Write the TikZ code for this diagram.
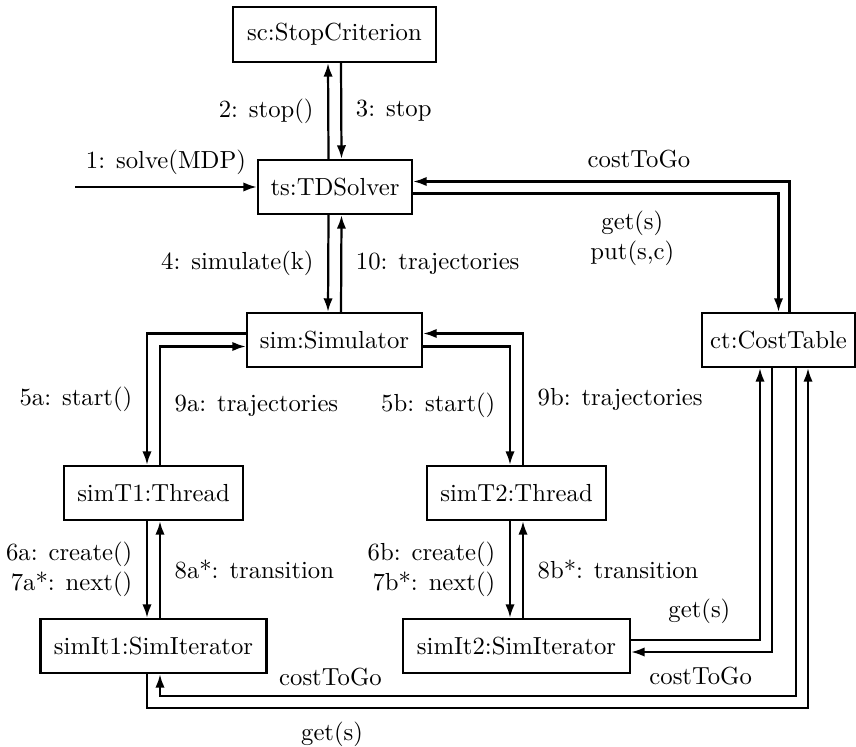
\documentclass[tikz,border=0pt]{standalone}
\usetikzlibrary{arrows.meta,calc}
\begin{document}
\begin{tikzpicture}[x=0.405pt,y=-0.405pt,
  obj/.style={draw,line width=0.9pt,minimum height=21.9pt,inner sep=0pt},
  msg/.style={line width=0.9pt,-{Latex[length=5.5pt,width=3.8pt]}},
  lab/.style={inner xsep=5.5pt,inner ysep=2pt}]
\useasboundingbox (0,0) rectangle (856,747);

% objects
\node[obj,minimum width=82.2pt,minimum height=22.3pt] (sc) at (334.5,34.5) {sc:StopCriterion};
\node[obj,minimum width=62.4pt] (ts) at (335,187) {ts:TDSolver};
\node[obj,minimum width=70.9pt] (sim) at (334.5,340) {sim:Simulator};
\node[obj,minimum width=62pt] (ct) at (778.5,340) {ct:CostTable};
\node[obj,minimum width=72.5pt] (simT1) at (153.5,493) {simT1:Thread};
\node[obj,minimum width=72.5pt] (simT2) at (516.5,493) {simT2:Thread};
\node[obj,minimum width=91.5pt] (simIt1) at (153.5,646) {simIt1:SimIterator};
\node[obj,minimum width=91.9pt] (simIt2) at (516.5,646) {simIt2:SimIterator};

% incoming call
\coordinate (in) at (75,187);
\draw[msg] (in) -- (in -| ts.west) node[midway,above,yshift=1.4pt] {1: solve(MDP)};

% solver and stop criterion
\draw[msg] ($(ts.north)+(-6.5,0)$) -- ($(sc.south)+(-6.5,0)$) node[lab,midway,left] {2: stop()};
\draw[msg] ($(sc.south)+(6.5,0)$) -- ($(ts.north)+(6.5,0)$) node[lab,midway,right] {3: stop};

% solver and simulator
\draw[msg] ($(ts.south)+(-6.5,0)$) -- ($(sim.north)+(-6.5,0)$) node[lab,midway,left] {4: simulate(k)};
\draw[msg] ($(sim.north)+(6.5,0)$) -- ($(ts.south)+(6.5,0)$) node[lab,midway,right] {10: trajectories};

% solver and cost table
\draw[msg] ($(ts.east)+(0,6.5)$) -| (ct.north)
  node[pos=0.3,below,yshift=-3.5pt,align=center] {get(s)\\put(s,c)};
\draw[msg] ($(ct.north)+(11,0)$) |- ($(ts.east)+(0,-5.5)$)
  node[pos=0.7,above,yshift=1.5pt] {costToGo};

% simulator and threads
\draw[msg] ($(sim.west)+(0,-6.5)$) -| ($(simT1.north)+(-6.5,0)$) node[lab,pos=0.75,left] {5a: start()};
\draw[msg] ($(simT1.north)+(6.5,0)$) |- ($(sim.west)+(0,6.5)$) node[lab,pos=0.25,right] {9a: trajectories};
\draw[msg] ($(sim.east)+(0,6.5)$) -| ($(simT2.north)+(-6.5,0)$) node[lab,pos=0.75,left] {5b: start()};
\draw[msg] ($(simT2.north)+(6.5,0)$) |- ($(sim.east)+(0,-6.5)$) node[lab,pos=0.25,right] {9b: trajectories};

% threads and iterators
\draw[msg] ($(simT1.south)+(-6.5,0)$) -- ($(simIt1.north)+(-6.5,0)$)
  node[lab,midway,left,align=right] {6a: create()\\7a*: next()};
\draw[msg] ($(simIt1.north)+(6.5,0)$) -- ($(simT1.south)+(6.5,0)$) node[lab,midway,right] {8a*: transition};
\draw[msg] ($(simT2.south)+(-6.5,0)$) -- ($(simIt2.north)+(-6.5,0)$)
  node[lab,midway,left,align=right] {6b: create()\\7b*: next()};
\draw[msg] ($(simIt2.north)+(6.5,0)$) -- ($(simT2.south)+(6.5,0)$) node[lab,midway,right] {8b*: transition};

% second iterator and cost table
\draw[msg] ($(simIt2.east)+(0,-6)$) -| ($(ct.south)+(-18.5,0)$)
  node[pos=0.265,above,yshift=2.7pt] {get(s)};
\draw[msg] ($(ct.south)+(-6.5,0)$) |- ($(simIt2.east)+(0,6)$)
  node[pos=0.753,below,yshift=-2.5pt] {costToGo};

% first iterator and cost table
\draw[msg] ($(simIt1.south)+(-6.5,0)$) -- ++(0,34) -| ($(ct.south)+(29.5,0)$)
  node[pos=0.14,below,yshift=-1.8pt] {get(s)};
\draw[msg] ($(ct.south)+(17.5,0)$) |- ($(simIt1.south)+(6.5,22)$)
  node[pos=0.866,above,yshift=0.5pt] {costToGo} -- ($(simIt1.south)+(6.5,0)$);
\end{tikzpicture}
\end{document}
